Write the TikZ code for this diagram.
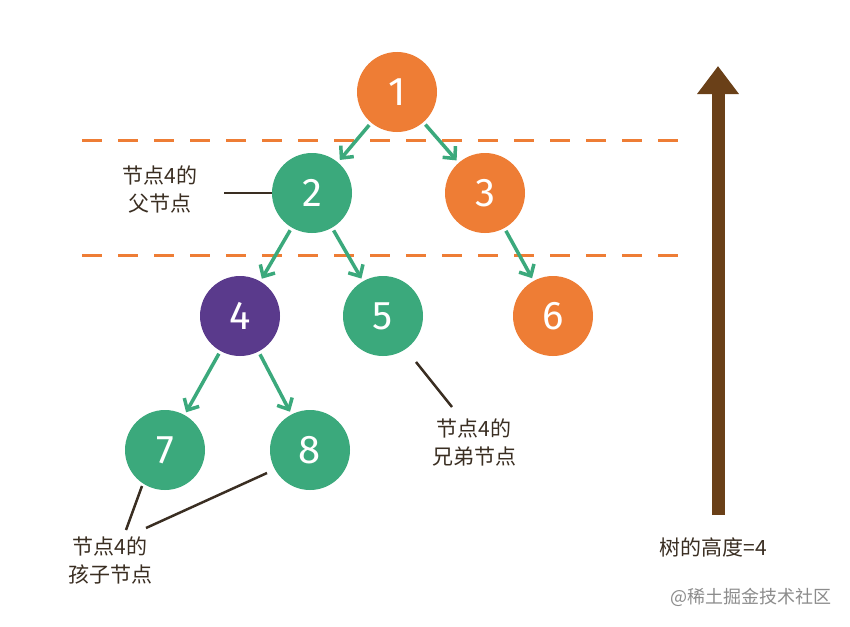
\documentclass[tikz,border=0pt]{standalone}
\usepackage{fontspec}
\setmainfont{Fira Sans}
\newfontfamily\cjk{Noto Sans CJK SC}
\usetikzlibrary{arrows.meta}
\definecolor{corange}{HTML}{EE7D35}
\definecolor{cgreen}{HTML}{3BA97C}
\definecolor{cpurple}{HTML}{5A3A8C}
\definecolor{cbrown}{HTML}{6A4018}
\definecolor{cline}{HTML}{3A2E22}
\tikzset{
  tnode/.style={circle, minimum size=80pt, inner sep=0pt, text=white, font=\fontsize{40}{42}\selectfont},
  onode/.style={tnode, fill=corange},
  gnode/.style={tnode, fill=cgreen},
  pnode/.style={tnode, fill=cpurple},
  garrow/.style={draw=cgreen, line width=3.5pt, -{Straight Barb[length=9pt,width=17pt,line width=3.5pt]}, shorten <=3pt, shorten >=3pt},
  level/.style={draw=corange, line width=3pt, dash pattern=on 20pt off 16pt},
  lbl/.style={font=\cjk\fontsize{21}{28}\selectfont, text=cline, align=center},
  pointer/.style={draw=cline, line width=2.5pt}
}
\begin{document}
\begin{tikzpicture}[x=1pt,y=-1pt]
\useasboundingbox (0,0) rectangle (850,626);
\fill[white] (0,0) rectangle (850,626);
% level lines
\coordinate (l1a) at (82,140); \coordinate (l1b) at (682,140);
\coordinate (l2a) at (82,255); \coordinate (l2b) at (688,255);
\draw[level] (l1a) -- (l1b);
\draw[level] (l2a) -- (l2b);
% nodes
\node[onode] (n1) at (397,92) {1};
\node[gnode] (n2) at (312,193) {2};
\node[onode] (n3) at (485,193) {3};
\node[pnode] (n4) at (240,316) {4};
\node[gnode] (n5) at (383,316) {5};
\node[onode] (n6) at (553,316) {6};
\node[gnode] (n7) at (165,450) {7};
\node[gnode] (n8) at (310,450) {8};
% arrows
\draw[garrow] (n1) -- (n2);
\draw[garrow] (n1) -- (n3);
\draw[garrow] (n2) -- (n4);
\draw[garrow] (n2) -- (n5);
\draw[garrow] (n3) -- (n6);
\draw[garrow] (n4) -- (n7);
\draw[garrow] (n4) -- (n8);
% labels
\node[lbl] (t2) at (160,190) {节点4的\\父节点};
\coordinate (p2a) at (224,193);
\draw[pointer] (p2a) -- (n2.west);
\node[lbl] (t5) at (474,442) {节点4的\\兄弟节点};
\coordinate (p5a) at (416,362); \coordinate (p5b) at (452,407);
\draw[pointer] (p5a) -- (p5b);
\node[lbl] (t7) at (110,560) {节点4的\\孩子节点};
\coordinate (p7a) at (142,486); \coordinate (p7b) at (126,530);
\coordinate (p8a) at (267,473); \coordinate (p8b) at (146,528);
\draw[pointer] (p7a) -- (p7b);
\draw[pointer] (p8a) -- (p8b);
% height arrow
\coordinate (hb) at (718,515);
\coordinate (ht) at (718,66);
\draw[cbrown, line width=13pt, -{Triangle[length=28pt,width=40pt]}] (hb) -- (ht);
\node[lbl, anchor=west] (th) at (656,547) {树的高度=4};
\node[font=\cjk\fontsize{18}{20}\selectfont, text=black!45, anchor=west] (wm) at (667,597) {@稀土掘金技术社区};
\end{tikzpicture}
\end{document}
